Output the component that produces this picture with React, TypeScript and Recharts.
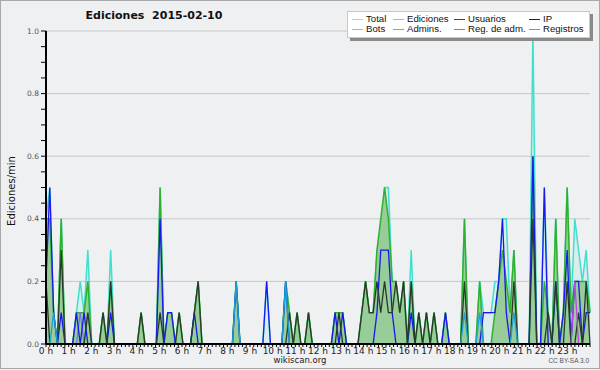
import { ComposedChart, Area, Line, XAxis, YAxis, CartesianGrid } from 'recharts'

// edits per minute, one value every 10 minutes (00:00 .. 23:50)
const TOTAL = [
  0.4, 0.5, 0.1, 0, 0.4, 0, 0, 0, 0.1, 0.2, 0.1, 0.3,
  0, 0, 0, 0.1, 0, 0.3, 0, 0, 0, 0, 0, 0,
  0, 0.1, 0, 0, 0, 0, 0.5, 0, 0.1, 0.1, 0, 0.1,
  0, 0, 0, 0.1, 0.2, 0, 0, 0, 0, 0, 0, 0,
  0, 0, 0.2, 0, 0, 0, 0, 0, 0, 0, 0.2, 0,
  0, 0, 0, 0.2, 0.1, 0, 0.1, 0, 0, 0.1, 0, 0,
  0, 0, 0, 0, 0.1, 0.1, 0.1, 0, 0, 0, 0, 0.1,
  0.2, 0.1, 0.1, 0.3, 0.3, 0.5, 0.5, 0.2, 0.2, 0.1, 0.2, 0,
  0.3, 0, 0.1, 0, 0.1, 0, 0.1, 0, 0, 0.1, 0, 0,
  0, 0, 0.4, 0, 0, 0, 0.2, 0.1, 0.1, 0.1, 0.2, 0.2,
  0.4, 0.4, 0.1, 0.3, 0, 0, 0, 0, 1.0, 0, 0, 0.5,
  0.1, 0, 0.4, 0, 0.1, 0.5, 0.1, 0.4, 0.3, 0.2, 0.3, 0.1,
]
const EDICIONES = [
  0.4, 0.4, 0.1, 0, 0.4, 0, 0, 0, 0.1, 0.1, 0.1, 0.2,
  0, 0, 0, 0.1, 0, 0.2, 0, 0, 0, 0, 0, 0,
  0, 0.1, 0, 0, 0, 0, 0.5, 0, 0.1, 0.1, 0, 0.1,
  0, 0, 0, 0.1, 0.2, 0, 0, 0, 0, 0, 0, 0,
  0, 0, 0.2, 0, 0, 0, 0, 0, 0, 0, 0, 0,
  0, 0, 0, 0.2, 0.1, 0, 0.1, 0, 0, 0.1, 0, 0,
  0, 0, 0, 0, 0.1, 0.1, 0.1, 0, 0, 0, 0, 0.1,
  0.2, 0.1, 0.1, 0.3, 0.4, 0.5, 0.4, 0.2, 0.2, 0.1, 0.2, 0,
  0.2, 0, 0.1, 0, 0.1, 0, 0.1, 0, 0, 0.1, 0, 0,
  0, 0, 0.4, 0, 0, 0, 0.2, 0, 0, 0, 0.1, 0.2,
  0.3, 0.2, 0.1, 0.3, 0, 0, 0, 0, 0.6, 0, 0, 0.2,
  0.1, 0, 0.4, 0, 0.1, 0.5, 0.1, 0.2, 0.2, 0.2, 0.2, 0.1,
]
const USUARIOS = [
  0.2, 0.5, 0.1, 0, 0.1, 0, 0, 0, 0.1, 0, 0.1, 0,
  0, 0, 0, 0, 0, 0.1, 0, 0, 0, 0, 0, 0,
  0, 0, 0, 0, 0, 0, 0.4, 0, 0.1, 0.1, 0, 0,
  0, 0, 0, 0.1, 0, 0, 0, 0, 0, 0, 0, 0,
  0, 0, 0.2, 0, 0, 0, 0, 0, 0, 0, 0.2, 0,
  0, 0, 0, 0.2, 0, 0, 0, 0, 0, 0, 0, 0,
  0, 0, 0, 0, 0.1, 0, 0.1, 0, 0, 0, 0, 0,
  0, 0, 0, 0.1, 0.3, 0.3, 0.3, 0.1, 0, 0, 0, 0,
  0.1, 0, 0, 0, 0, 0, 0, 0, 0, 0.1, 0, 0,
  0, 0, 0, 0, 0, 0, 0, 0.1, 0.1, 0.1, 0.1, 0.2,
  0.4, 0.1, 0, 0, 0, 0, 0, 0, 0.6, 0, 0, 0.5,
  0, 0, 0.2, 0, 0.1, 0.3, 0, 0.2, 0.2, 0, 0.1, 0.1,
]
const IP = [
  0.2, 0, 0, 0, 0.3, 0, 0, 0, 0, 0, 0, 0.1,
  0, 0, 0, 0.1, 0, 0.2, 0, 0, 0, 0, 0, 0,
  0, 0.1, 0, 0, 0, 0, 0.1, 0, 0, 0, 0, 0.1,
  0, 0, 0, 0.1, 0.2, 0, 0, 0, 0, 0, 0, 0,
  0, 0, 0, 0, 0, 0, 0, 0, 0, 0, 0, 0,
  0, 0, 0, 0, 0.1, 0, 0.1, 0, 0, 0.1, 0, 0,
  0, 0, 0, 0, 0, 0.1, 0, 0, 0, 0, 0, 0.1,
  0.2, 0.1, 0.1, 0.2, 0.1, 0.2, 0.1, 0.1, 0.2, 0.1, 0.2, 0,
  0.2, 0, 0.1, 0, 0.1, 0, 0.1, 0, 0, 0, 0, 0,
  0, 0, 0.2, 0, 0, 0, 0, 0, 0, 0, 0, 0,
  0, 0, 0, 0.2, 0, 0, 0, 0, 0.4, 0, 0, 0,
  0.1, 0, 0.2, 0, 0, 0.2, 0, 0, 0.1, 0, 0.2, 0,
]
const ADMINS = [
  0, 0, 0.1, 0, 0, 0, 0, 0, 0, 0, 0, 0,
  0, 0, 0, 0, 0, 0, 0, 0, 0, 0, 0, 0,
  0, 0, 0, 0, 0, 0, 0, 0, 0, 0, 0, 0,
  0, 0, 0, 0, 0, 0, 0, 0, 0, 0, 0, 0,
  0, 0, 0.2, 0, 0, 0, 0, 0, 0, 0, 0, 0,
  0, 0, 0, 0.2, 0, 0, 0, 0, 0, 0, 0, 0,
  0, 0, 0, 0, 0, 0, 0, 0, 0, 0, 0, 0,
  0, 0, 0, 0, 0, 0, 0, 0, 0, 0, 0, 0,
  0, 0, 0, 0, 0, 0, 0, 0, 0, 0, 0, 0,
  0, 0, 0.1, 0, 0, 0, 0.1, 0, 0, 0, 0, 0,
  0, 0, 0, 0.1, 0, 0, 0, 0, 0, 0, 0, 0,
  0, 0, 0, 0, 0, 0, 0, 0, 0, 0, 0, 0,
]
const REGISTROS = [
  0, 0, 0, 0, 0, 0, 0, 0, 0, 0.1, 0, 0.1,
  0, 0, 0, 0, 0, 0, 0, 0, 0, 0, 0, 0,
  0, 0, 0, 0, 0, 0, 0, 0, 0, 0, 0, 0,
  0, 0, 0, 0, 0, 0, 0, 0, 0, 0, 0, 0,
  0, 0, 0, 0, 0, 0, 0, 0, 0, 0, 0, 0,
  0, 0, 0, 0, 0, 0, 0, 0, 0, 0, 0, 0,
  0, 0, 0, 0, 0, 0, 0, 0, 0, 0, 0, 0,
  0, 0, 0, 0, 0, 0, 0, 0, 0, 0, 0, 0,
  0, 0, 0, 0, 0, 0, 0, 0, 0, 0, 0, 0,
  0, 0, 0, 0, 0, 0, 0, 0, 0, 0, 0, 0,
  0, 0, 0, 0, 0, 0, 0, 0, 0, 0, 0, 0,
  0, 0, 0, 0, 0, 0, 0, 0, 0, 0, 0, 0,
]
const REG_ADM = [
  0, 0, 0, 0, 0, 0, 0, 0, 0, 0, 0, 0,
  0, 0, 0, 0, 0, 0, 0, 0, 0, 0, 0, 0,
  0, 0, 0, 0, 0, 0, 0, 0, 0, 0, 0, 0,
  0, 0, 0, 0, 0, 0, 0, 0, 0, 0, 0, 0,
  0, 0, 0, 0, 0, 0, 0, 0, 0, 0, 0, 0,
  0, 0, 0, 0, 0, 0, 0, 0, 0, 0, 0, 0,
  0, 0, 0, 0, 0, 0, 0, 0, 0, 0, 0, 0,
  0, 0, 0, 0, 0, 0, 0, 0, 0, 0, 0, 0,
  0, 0, 0, 0, 0, 0, 0, 0, 0, 0, 0, 0,
  0, 0, 0, 0, 0, 0, 0, 0, 0, 0, 0, 0,
  0, 0, 0, 0, 0, 0, 0, 0, 0, 0, 0, 0,
  0, 0, 0, 0, 0, 0, 0, 0.2, 0, 0, 0, 0,
]
const BOTS = [
  0, 0, 0, 0, 0, 0, 0, 0, 0, 0, 0, 0,
  0, 0, 0, 0, 0, 0, 0, 0, 0, 0, 0, 0,
  0, 0, 0, 0, 0, 0, 0, 0, 0, 0, 0, 0,
  0, 0, 0, 0, 0, 0, 0, 0, 0, 0, 0, 0,
  0, 0, 0, 0, 0, 0, 0, 0, 0, 0, 0, 0,
  0, 0, 0, 0, 0, 0, 0, 0, 0, 0, 0, 0,
  0, 0, 0, 0, 0, 0, 0, 0, 0, 0, 0, 0,
  0, 0, 0, 0, 0, 0, 0, 0, 0, 0, 0, 0,
  0, 0, 0, 0, 0, 0, 0, 0, 0, 0, 0, 0,
  0, 0, 0, 0, 0, 0, 0, 0, 0, 0, 0, 0,
  0, 0, 0, 0, 0, 0, 0, 0, 0, 0, 0, 0,
  0, 0, 0, 0, 0, 0, 0, 0, 0, 0, 0, 0,
]

const HOURS = [
  '0 h', '1 h', '2 h', '3 h', '4 h', '5 h', '6 h', '7 h', '8 h', '9 h', '10 h', '11 h',
  '12 h', '13 h', '14 h', '15 h', '16 h', '17 h', '18 h', '19 h', '20 h', '21 h', '22 h', '23 h',
]
const Y_TICKS = [0, 0.05, 0.1, 0.15, 0.2, 0.25, 0.3, 0.35, 0.4, 0.45, 0.5, 0.55, 0.6, 0.65, 0.7, 0.75, 0.8, 0.85, 0.9, 0.95, 1.0]
const Y_LABELED = [0, 0.2, 0.4, 0.6, 0.8, 1.0]
const GRID_LINES = [0.2, 0.4, 0.6, 0.8, 1.0]

const LEGEND = [
  { label: 'Total', color: '#8fe3da', x: 352, row: 0 },
  { label: 'Ediciones', color: '#8fd08f', x: 393, row: 0 },
  { label: 'Usuarios', color: '#3030e8', x: 454, row: 0 },
  { label: 'IP', color: '#222222', x: 529, row: 0 },
  { label: 'Bots', color: '#f4a340', x: 352, row: 1 },
  { label: 'Admins.', color: '#40c0e0', x: 393, row: 1 },
  { label: 'Reg. de adm.', color: '#c050e0', x: 454, row: 1 },
  { label: 'Registros', color: '#8080f0', x: 529, row: 1 },
]

const N = TOTAL.length
const data = TOTAL.map((t, i) => ({
  i,
  total: t,
  ediciones: EDICIONES[i],
  usuarios: USUARIOS[i],
  ip: IP[i],
  admins: ADMINS[i],
  registros: REGISTROS[i],
  regAdm: REG_ADM[i],
  bots: BOTS[i],
}))

// one tick every 10 minutes across the whole axis, labelled on the hour
const X_TICKS = Array.from({ length: N + 1 }, (_, k) => (k * (N - 1)) / N)

const BG = '#eff0f1'
const FONT = '"DejaVu Sans", sans-serif'
const LEGEND_FONT = '"Liberation Sans", Arial, sans-serif'

export default function App() {
  return (
    <div style={{ position: 'relative', width: 600, height: 370, background: BG, fontFamily: FONT }}>
      <style>{'body{margin:0}'}</style>
      <div
        style={{
          position: 'absolute', left: 0, top: 0, width: 600, height: 369,
          boxSizing: 'border-box', border: '1px solid #a8a8a8', pointerEvents: 'none',
        }}
      />
      <div style={{ position: 'absolute', left: 0, top: 0 }}>
        <ComposedChart width={600} height={369} data={data} margin={{ top: 31, right: 10, bottom: 0, left: 0 }}>
          <CartesianGrid vertical={false} horizontalValues={GRID_LINES} stroke="#c8c8c8" />
          <Area type="linear" dataKey="total" stroke="#40e0d0" strokeWidth={1.5} fill="#40e0d0" fillOpacity={0.12} isAnimationActive={false} />
          <Area type="linear" dataKey="ediciones" stroke="#30b030" strokeWidth={1.5} fill="#98cc98" fillOpacity={1} isAnimationActive={false} />
          <Line type="linear" dataKey="registros" stroke="#6f6ff0" strokeWidth={1.2} dot={false} isAnimationActive={false} />
          <Line type="linear" dataKey="usuarios" stroke="#1818f0" strokeWidth={1.3} dot={false} isAnimationActive={false} />
          <Line type="linear" dataKey="ip" stroke="#2a3a2a" strokeWidth={1.3} dot={false} isAnimationActive={false} />
          <Line type="linear" dataKey="admins" stroke="#1ea0d8" strokeWidth={1.3} dot={false} isAnimationActive={false} />
          <Line type="linear" dataKey="regAdm" stroke="#c040e0" strokeWidth={1.2} dot={false} isAnimationActive={false} />
          <Line type="linear" dataKey="bots" stroke="#f4a340" strokeWidth={1.2} dot={false} isAnimationActive={false} />
          <XAxis
            dataKey="i"
            type="number"
            domain={[0, N - 1]}
            ticks={X_TICKS}
            interval={0}
            height={25}
            tickSize={3}
            tickMargin={1}
            axisLine={{ stroke: '#000', strokeWidth: 2 }}
            tickLine={{ stroke: '#000' }}
            tick={{ fontSize: 9, fill: '#222', fontFamily: FONT }}
            tickFormatter={(_v: number, idx: number) => (idx % 6 === 0 && idx < N ? HOURS[idx / 6] : '')}
          />
          <YAxis
            type="number"
            domain={[0, 1]}
            ticks={Y_TICKS}
            interval={0}
            width={46}
            tickSize={5}
            tickMargin={2}
            axisLine={{ stroke: '#000', strokeWidth: 2 }}
            tickLine={{ stroke: '#000' }}
            tick={{ fontSize: 7.5, fill: '#555', fontFamily: FONT }}
            tickFormatter={(v: number) => (Y_LABELED.some(l => Math.abs(l - v) < 1e-6) ? v.toFixed(1) : '')}
          />
        </ComposedChart>
      </div>

      <div style={{ position: 'absolute', left: 0, width: 308, top: 9, textAlign: 'center', fontSize: 11, fontWeight: 'bold', color: '#111', whiteSpace: 'pre' }}>
        {'Ediciones  2015-02-10'}
      </div>

      <div
        style={{
          position: 'absolute', left: 11, top: 191, transform: 'translate(-50%, -50%) rotate(-90deg)',
          fontSize: 10, color: '#111', whiteSpace: 'nowrap',
        }}
      >
        Ediciones/min
      </div>

      <div
        style={{
          position: 'absolute', left: 347, top: 11, width: 243, height: 27, boxSizing: 'border-box',
          background: '#fff', border: '1px solid #c8c8c8', boxShadow: '3px 3px 0 #8a8a8a',
        }}
      />
      {LEGEND.map(l => (
        <div key={l.label}>
          <div style={{ position: 'absolute', left: l.x, top: l.row === 0 ? 19 : 29, width: 11, height: 1, background: l.color }} />
          <div style={{ position: 'absolute', left: l.x + 14, top: l.row === 0 ? 13 : 23, fontFamily: LEGEND_FONT, fontSize: 9.6, lineHeight: '12px', color: '#111', whiteSpace: 'nowrap' }}>
            {l.label}
          </div>
        </div>
      ))}

      <div style={{ position: 'absolute', left: 0, width: 600, top: 355, textAlign: 'center', fontSize: 8.5, color: '#222' }}>wikiscan.org</div>
      <div style={{ position: 'absolute', right: 11, top: 357, fontFamily: LEGEND_FONT, fontSize: 6.5, color: '#555' }}>CC BY-SA 3.0</div>
    </div>
  )
}
